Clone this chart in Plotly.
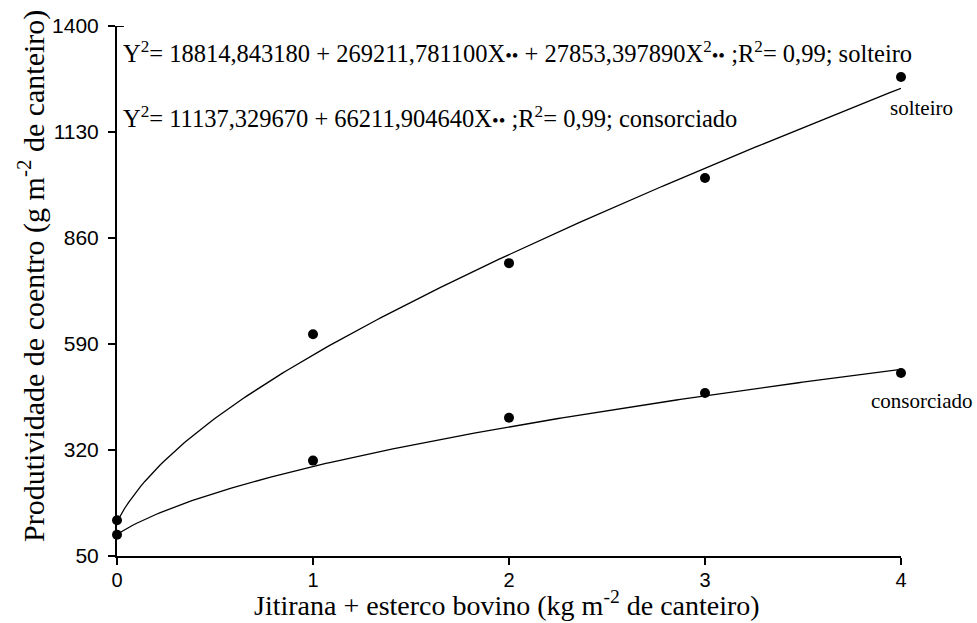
import numpy as np
import plotly.graph_objects as go

# Doses of jitirana + cattle manure (kg m-2 of bed)
doses = [0, 1, 2, 3, 4]

# Observed coriander yield (g m-2 of bed)
solteiro = [141, 615, 796, 1013, 1270]
consorciado = [104, 293, 402, 465, 516]

# Fitted regressions on Y^2: solteiro quadratic, consorciado linear
coef_solteiro = [18814.843180, 269211.781100, 27853.397890]
coef_consorciado = [11137.329670, 66211.904640]

y_ticks = [50, 320, 590, 860, 1130, 1400]
x_ticks = [0, 1, 2, 3, 4]

xs = np.linspace(0, 4, 200)
fit_solteiro = np.sqrt(coef_solteiro[0] + coef_solteiro[1] * xs + coef_solteiro[2] * xs ** 2)
fit_consorciado = np.sqrt(coef_consorciado[0] + coef_consorciado[1] * xs)

SERIF = "Liberation Serif"
SANS = "Liberation Sans"

W, H = 977, 623
ML, MR, MT, MB = 117, 76, 26, 67
pw, ph = W - ML - MR, H - MT - MB


def px_to_paper(px, py):
    return (px - ML) / pw, (H - MB - py) / ph


fig = go.Figure()

for fit in (fit_solteiro, fit_consorciado):
    fig.add_trace(go.Scatter(x=xs, y=fit, mode="lines",
                             line=dict(color="black", width=1.3),
                             showlegend=False, hoverinfo="skip", cliponaxis=False))

for obs in (solteiro, consorciado):
    fig.add_trace(go.Scatter(x=doses, y=obs, mode="markers",
                             marker=dict(color="black", size=10),
                             showlegend=False, cliponaxis=False))

dots = '<span style="font-size:19px">••</span>'
eq1 = ("Y<sup>2</sup>= 18814,843180 + 269211,781100X" + dots +
       " + 27853,397890X<sup>2</sup>" + dots + " ;R<sup>2</sup>= 0,99; solteiro")
eq2 = ("Y<sup>2</sup>= 11137,329670 + 66211,904640X" + dots +
       " ;R<sup>2</sup>= 0,99; consorciado")

annotations = []


def add_text(text, px, py, size, angle=0, xanchor="center"):
    x, y = px_to_paper(px, py)
    annotations.append(dict(text=text, x=x, y=y, xref="paper", yref="paper",
                            xanchor=xanchor, yanchor="middle", showarrow=False,
                            textangle=angle,
                            font=dict(family=SERIF, size=size, color="black")))


add_text(eq1, 121, 52, 24.5, xanchor="left")
add_text(eq2, 121, 117, 24.5, xanchor="left")
add_text("solteiro", 922, 108, 21)
add_text("consorciado", 921, 401, 21)
add_text("Jitirana + esterco bovino (kg m<sup>-2</sup> de canteiro)", 507, 603, 28)
add_text("Produtividade de coentro (g m<sup>-2</sup> de canteiro)", 31, 276, 30, angle=-90)

fig.update_layout(
    width=W, height=H,
    margin=dict(l=ML, r=MR, t=MT, b=MB, pad=0),
    paper_bgcolor="white", plot_bgcolor="white",
    annotations=annotations,
    shapes=[dict(type="line", xref="x", yref="y", x0=0, x1=0.035, y0=1400, y1=1400,
                 line=dict(color="black", width=2))],
)

fig.update_xaxes(range=[0, 4], tickvals=x_ticks, ticktext=[str(v) for v in x_ticks],
                 showgrid=False, zeroline=False, showline=True, linecolor="black", linewidth=2,
                 ticks="outside", ticklen=7, tickwidth=2, tickcolor="black",
                 ticklabelstandoff=-2,
                 tickfont=dict(family=SANS, size=20, color="black"))
fig.update_yaxes(range=[50, 1400], tickvals=y_ticks, ticktext=[str(v) for v in y_ticks],
                 showgrid=False, zeroline=False, showline=True, linecolor="black", linewidth=2,
                 ticks="outside", ticklen=7, tickwidth=2, tickcolor="black",
                 ticklabelstandoff=5,
                 tickfont=dict(family=SANS, size=21, color="black"))

fig.write_html("out.html")
